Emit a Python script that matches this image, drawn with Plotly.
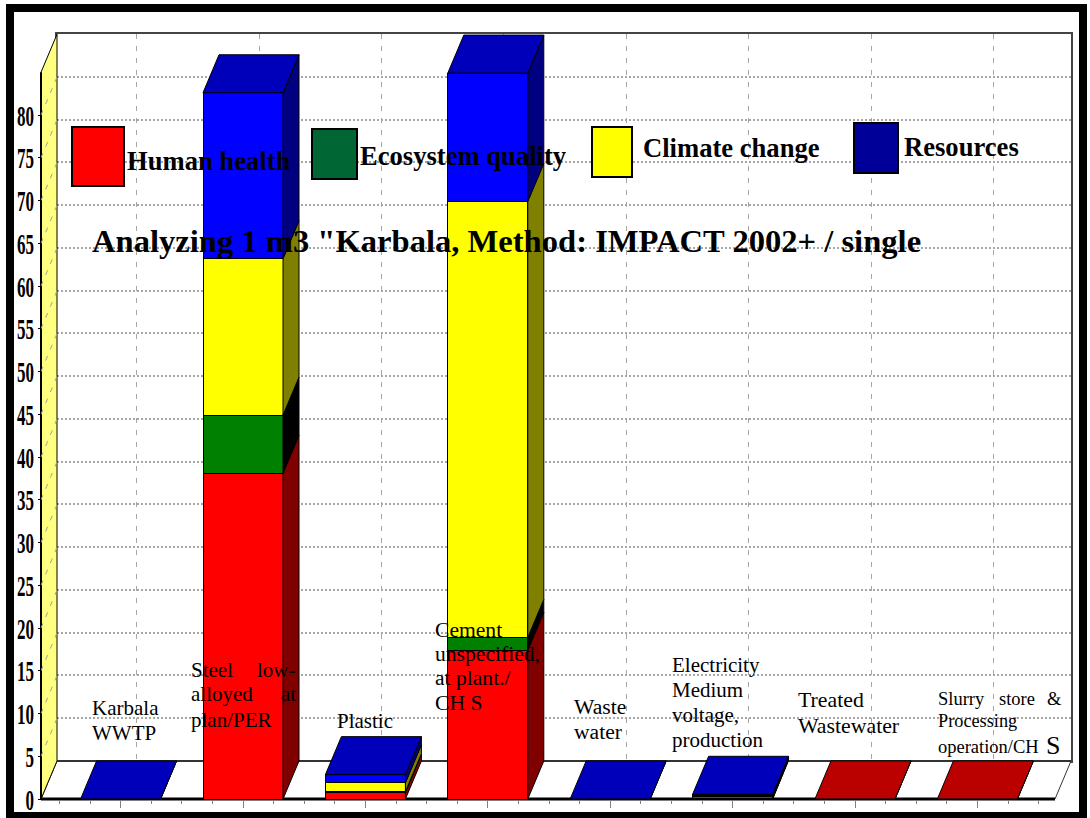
import plotly.graph_objects as go

W, H = 1090, 818

# ---------- data ----------
CATEGORIES = ["Karbala WWTP", "Steel low-alloyed at plan/PER", "Plastic",
              "Cement unspecified, at plant./CH S", "Waste water",
              "Electricity Medium voltage, production", "Treated Wastewater",
              "Slurry store & Processing operation/CH S"]
HUMAN_HEALTH = [0, 38.1, 0.8, 17.4, 0, 0.1, 0.01, 0.01]
ECOSYSTEM    = [0, 6.8, 0.05, 1.5, 0, 0.15, 0, 0]
CLIMATE      = [0, 18.3, 1.05, 51.0, 0, 0.15, 0, 0]
RESOURCES    = [0.01, 19.4, 0.95, 15.0, 0.01, 0.15, 0, 0]
SERIES_NAMES = ["Human health", "Ecosystem quality", "Climate change", "Resources"]
Y_TICKS = list(range(0, 85, 5))
TITLE = 'Analyzing 1 m3 "Karbala, Method: IMPACT 2002+ / single'

# ---------- style ----------
SERIES = [HUMAN_HEALTH, ECOSYSTEM, CLIMATE, RESOURCES]
FRONT = ["#ff0000", "#008000", "#ffff00", "#0000ff"]
SIDE  = ["#800000", "#000000", "#808000", "#000080"]
TOP   = ["#bb0000", "#006000", "#bbbb00", "#0000bb"]
SERIF = "Liberation Serif"

X_PITCH, X0_PX = 122.4, 120.6      # px per category, px of first category
Y_UNIT, Y0_PX = 8.55, 799.0        # px per value unit, px of value 0
DX, DY = 16 / X_PITCH, 38 / Y_UNIT # oblique depth in data units
HALF = 40 / X_PITCH                # half bar width
X_LEFT = (41 - X0_PX) / X_PITCH
X_RIGHT = (1055 - X0_PX) / X_PITCH
Y_TOP = 85


def px(x):
    return x / W


def py(y):
    return 1 - y / H


fig = go.Figure()

# back-wall subplot needs a trace so that its axes and grids are drawn
fig.add_trace(go.Scatter(x=[0], y=[0], xaxis="x", yaxis="y", mode="lines",
                         hoverinfo="skip", showlegend=False))


def poly(xs, ys, fill, line="#000000", lw=1):
    fig.add_trace(go.Scatter(
        x=xs + xs[:1], y=ys + ys[:1], xaxis="x2", yaxis="y2", mode="lines",
        fill="toself", fillcolor=fill, line=dict(color=line, width=lw),
        hoverinfo="skip", showlegend=False))


def path(points):
    return "M " + " L ".join(f"{a},{b}" for a, b in points) + " Z"


# ---------- stacked front faces ----------
idx = list(range(len(CATEGORIES)))
for name, vals, col in zip(SERIES_NAMES, SERIES, FRONT):
    fig.add_trace(go.Bar(x=idx, y=vals, name=name, xaxis="x2", yaxis="y2",
                         width=2 * HALF, marker=dict(color=col, line=dict(color="#000000", width=1)),
                         hovertext=CATEGORIES, showlegend=False))

# ---------- oblique sides and tops of each stack ----------
for i in idx:
    base = 0
    top_col = TOP[-1]
    xr = i + HALF
    xl = i - HALF
    for s, vals in enumerate(SERIES):
        v = vals[i]
        if v > 0:
            poly([xr, xr + DX, xr + DX, xr],
                 [base, base + DY, base + v + DY, base + v], SIDE[s])
            top_col = TOP[s]
        base += v
    poly([xl, xr, xr + DX, xl + DX], [base, base, base + DY, base + DY], top_col)

# ---------- dashed lines on the left wall ----------
wx, wy = [], []
for t in Y_TICKS[1:]:
    wx += [X_LEFT, X_LEFT + DX, None]
    wy += [t, t + DY, None]
fig.add_trace(go.Scatter(x=wx, y=wy, xaxis="x2", yaxis="y2", mode="lines",
                         line=dict(color="#a0a0a0", width=1, dash="5px,7px"),
                         hoverinfo="skip", showlegend=False))

# ---------- floor, wall, axis lines ----------
shapes = [
    dict(type="path", xref="x2", yref="y2", layer="below", fillcolor="#ffffff",
         line=dict(color="#333333", width=1),
         path=path([(X_LEFT, 0), (X_LEFT + DX, DY), (X_RIGHT + DX, DY), (X_RIGHT, 0)])),
    dict(type="path", xref="x2", yref="y2", layer="below", fillcolor="#ffff80",
         line=dict(color="#000000", width=1),
         path=path([(X_LEFT, 0), (X_LEFT + DX, DY), (X_LEFT + DX, Y_TOP + DY), (X_LEFT, Y_TOP)])),
    dict(type="line", xref="x2", yref="y2", layer="below", x0=X_LEFT, x1=X_RIGHT, y0=0, y1=0,
         line=dict(color="#000000", width=3)),
    dict(type="line", xref="x2", yref="y2", layer="below", x0=X_LEFT, x1=X_LEFT, y0=0, y1=Y_TOP,
         line=dict(color="#000000", width=2)),
    dict(type="line", xref="x2", yref="y2", layer="below", x0=X_LEFT + DX, x1=X_RIGHT + DX, y0=DY, y1=DY,
         line=dict(color="#333333", width=2)),
]

# ---------- outer frame ----------
shapes.append(dict(type="rect", xref="paper", yref="paper", layer="above",
                   x0=px(10), x1=px(1083), y0=py(8), y1=py(816),
                   fillcolor="rgba(0,0,0,0)", line=dict(color="#000000", width=8)))

# ---------- legend swatches ----------
SWATCHES = [((72, 127, 124, 186), "#ff0000"), ((312, 129, 357, 179), "#006633"),
            ((592, 127, 632, 177), "#ffff00"), ((854, 123, 898, 173), "#000099")]
for (x0, y0, x1, y1), col in SWATCHES:
    shapes.append(dict(type="rect", xref="paper", yref="paper", layer="above",
                       x0=px(x0), x1=px(x1), y0=py(y0), y1=py(y1), fillcolor=col,
                       line=dict(color="#000000", width=2)))

# ---------- text ----------
annotations = []


def text(x, y, s, size=20, bold=False, anchor="left"):
    annotations.append(dict(xref="paper", yref="paper", x=px(x), y=py(y), text=s, showarrow=False,
                            xanchor=anchor, yanchor="middle", borderpad=0,
                            font=dict(family=SERIF, size=size, color="#000000",
                                      weight="bold" if bold else "normal")))


LEGEND_POS = [(126, 161), (359, 156), (642, 148), (903, 147)]
for name, (x, y) in zip(SERIES_NAMES, LEGEND_POS):
    text(x, y, name, 26.6, True)
text(91, 241, TITLE, 32.6, True)

LABELS = [
    (91, 708, "Karbala", 21, "left"), (91, 733, "WWTP", 21, "left"),
    (190, 670, "Steel", 21, "left"), (297, 670, "low-", 21, "right"),
    (190, 694, "alloyed", 21, "left"), (297, 694, "at", 21, "right"),
    (190, 720, "plan/PER", 21, "left"),
    (336, 721, "Plastic", 21, "left"),
    (434, 630, "Cement", 21.6, "left"), (434, 654, "unspecified,", 21.6, "left"),
    (434, 678, "at plant./", 21.6, "left"), (434, 703, "CH S", 21.6, "left"),
    (573, 707, "Waste", 21.6, "left"), (573, 732, "water", 21.6, "left"),
    (671, 665, "Electricity", 21, "left"), (671, 690, "Medium", 21, "left"),
    (671, 715, "voltage,", 21, "left"), (671, 740, "production", 21, "left"),
    (797, 700, "Treated", 21.8, "left"), (797, 726, "Wastewater", 21.8, "left"),
    (937, 699, "Slurry", 18.5, "left"), (998, 699, "store", 18.5, "left"),
    (1063, 699, "&", 18.5, "right"),
    (937, 721, "Processing", 18.3, "left"), (937, 747, "operation/CH", 18.5, "left"),
    (1045, 745, "S", 26, "left"),
]
for x, y, s, size, anc in LABELS:
    text(x, y, s, size, False, anc)

# ---------- layout ----------
fig.update_layout(
    width=W, height=H, margin=dict(l=0, r=0, t=0, b=0), showlegend=False,
    paper_bgcolor="#ffffff", plot_bgcolor="rgba(0,0,0,0)", barmode="stack",
    shapes=shapes, annotations=annotations,
    # back wall: real grids
    xaxis=dict(domain=[px(57), px(1071)],
               range=[(57 - X0_PX - 16) / X_PITCH, (1071 - X0_PX - 16) / X_PITCH],
               tickmode="array", tickvals=idx, showticklabels=False, ticks="",
               showgrid=True, gridcolor="#a6a6a6", gridwidth=1, griddash="5px,7px",
               zeroline=False, showline=True, mirror=True, linecolor="#444444", linewidth=1.5),
    yaxis=dict(domain=[py(761), py(34)], range=[0, Y_TOP],
               tickmode="array", tickvals=Y_TICKS, showticklabels=False, ticks="",
               showgrid=True, gridcolor="#a6a6a6", gridwidth=2, griddash="2px,2px",
               zeroline=False, showline=True, mirror=True, linecolor="#444444", linewidth=1.5),
    # front plane: bars, ticks, labels
    xaxis2=dict(domain=[0, 1], anchor="free", position=py(Y0_PX),
                range=[(0 - X0_PX) / X_PITCH, (W - X0_PX) / X_PITCH],
                tickmode="array", tickvals=idx, showticklabels=False,
                ticks="outside", ticklen=8, tickcolor="#808080", tickwidth=1,
                minor=dict(ticks="outside", ticklen=4, tickcolor="#808080", tickwidth=1,
                           tickmode="array",
                           tickvals=[i + k / 4 for i in [-1] + idx for k in (1, 2, 3) if -0.6 < i + k / 4 < 7.6]),
                showgrid=False, zeroline=False, showline=False),
    yaxis2=dict(domain=[0, 1], anchor="free", position=px(41),
                range=[(Y0_PX - H) / Y_UNIT, Y0_PX / Y_UNIT],
                tickmode="array", tickvals=Y_TICKS, ticks="outside", ticklen=3,
                tickcolor="#000000", tickwidth=1,
                tickfont=dict(family="Liberation Sans Narrow", size=30, color="#000000", weight="bold"),
                showgrid=False, zeroline=False, showline=False),
)

POST = """
document.body.style.margin='0';
document.body.style.overflow='hidden';
document.querySelectorAll('.ytick2 text, .y2tick text').forEach(function(t){
  var n=t.textContent.length;
  t.setAttribute('textLength', n*8.5);
  t.setAttribute('lengthAdjust','spacingAndGlyphs');
  t.setAttribute('dx', 2);
});
"""
fig.write_html("out.html", post_script=POST, config=dict(displayModeBar=False))
